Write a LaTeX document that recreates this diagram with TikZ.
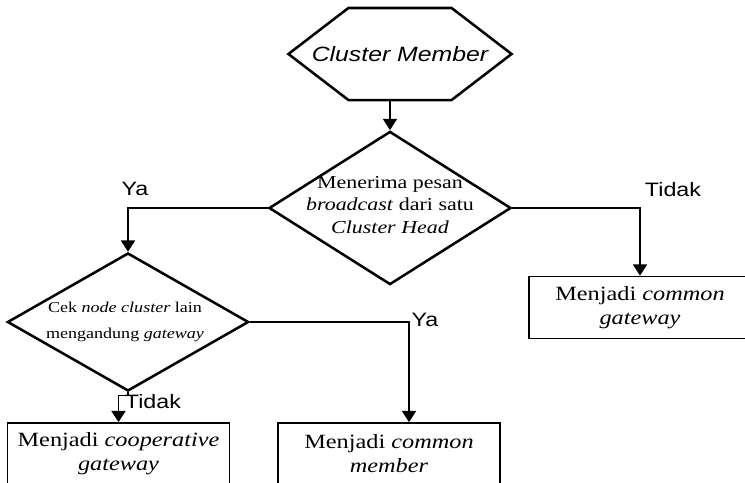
\documentclass[tikz,border=0pt]{standalone}
\usepackage{fontspec}
\setmainfont{Liberation Serif}[FakeStretch=1.2]
\newfontfamily\lblfont{Liberation Sans}[FakeStretch=1.2]
\usetikzlibrary{shapes.geometric,shapes.symbols,arrows.meta}
\tikzset{
  conn/.style={line width=1.1pt,-{Triangle[width=10pt,length=8pt]}},
  hexa/.style={signal, signal to=west and east, signal pointer angle=75, draw, line width=1.8pt,
    minimum height=2.3cm, inner xsep=-0.915cm, inner ysep=0pt,
    font={\lblfont\fontsize{14.7}{17}\selectfont\itshape}},
  decision/.style={diamond, draw, line width=1.8pt, inner sep=0pt},
  outbox/.style={rectangle, draw, line width=1.2pt, minimum width=5.55cm, minimum height=1.55cm,
    align=center, font={\fontsize{14.4}{17}\selectfont}},
  yesno/.style={font={\lblfont\fontsize{13.8}{16}\selectfont}, inner sep=0pt}
}
\begin{document}
\begin{tikzpicture}[x=0.025cm,y=-0.025cm]
\useasboundingbox (0,0) rectangle (745,482);
\clip (0,0) rectangle (745,482);
\node[hexa] (clustermember) at (400,54) {Cluster Member};
\node[decision, minimum width=6.05cm, minimum height=3.83cm] (receive) at (390,208) {};
\node[align=center, font={\fontsize{13}{16}\selectfont}] (receivetxt) at (390,205)
  {Menerima pesan\\\textit{broadcast} dari satu\\\textit{Cluster Head}};
\node[decision, minimum width=6.03cm, minimum height=3.45cm] (check) at (128,322) {};
\node[align=center, font={\fontsize{10.7}{18}\selectfont}] (checktxt) at (125,322)
  {Cek \textit{node cluster} lain\\mengandung \textit{gateway}};
\node[outbox] (commongw) at (640,307.5) {Menjadi \textit{common}\\\textit{gateway}};
\node[outbox] (coopgw) at (118.5,454) {Menjadi \textit{cooperative}\\\textit{gateway}};
\node[outbox] (commonmem) at (389,454) {Menjadi \textit{common}\\\textit{member}};
\draw[conn] (clustermember.south -| receive.north) -- (receive.north);
\draw[conn] (receive.west) -| (check.north);
\draw[conn] (receive.east) -| (commongw.north);
\draw[conn] (check.east) -| ([xshift=0.5cm]commonmem.north);
\draw[conn] (check.south) -- ++(0,3) -| (coopgw.north);
\node[yesno] (ya1) at (135,189) {Ya};
\node[yesno] (tidak1) at (673,190) {Tidak};
\node[yesno] (ya2) at (425,320) {Ya};
\node[yesno] (tidak2) at (153,402) {Tidak};
\end{tikzpicture}
\end{document}
